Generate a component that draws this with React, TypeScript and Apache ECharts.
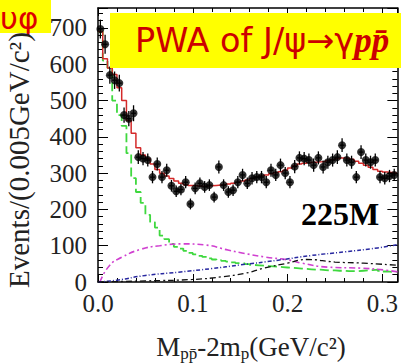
import React, { useEffect, useRef } from "react";
import * as echarts from "echarts";

const BIN_WIDTH = 0.005;
const X_MAX = 0.3158;
const Y_MAX = 755;

const xTickLabels = ["0.0", "0.1", "0.2", "0.3"];
const yTickLabels = ["0", "100", "200", "300", "400", "500", "600", "700"];

// measured events per bin (bin i covers [i*0.005, (i+1)*0.005])
const counts = [
  697, 655, 570, 556, 548, 460, 450, 465, 344, 340,
  336, 289, 325, 289, 308, 265, 250, 255, 275, 215,
  258, 272, 262, 267, 234, 317, 267, 248, 253, 275,
  295, 272, 286, 289, 289, 275, 308, 295, 322, 300,
  275, 318, 342, 340, 336, 322, 342, 317, 330, 336,
  344, 377, 336, 330, 289, 358, 336, 330, 336, 289,
  286, 292, 295,
];
const countErrors = [
  26, 26, 24, 24, 23, 21, 21, 22, 19, 18,
  18, 17, 18, 17, 18, 16, 16, 16, 17, 15,
  16, 16, 16, 16, 15, 18, 16, 16, 16, 17,
  17, 16, 17, 17, 17, 17, 18, 17, 18, 17,
  17, 18, 18, 18, 18, 18, 18, 18, 18, 18,
  19, 19, 18, 18, 17, 19, 18, 18, 18, 17,
  17, 17, 17,
];
// total fit (red histogram)
const fitTotal = [
  690, 615, 590, 572, 535, 500, 445, 410, 370, 350,
  340, 325, 310, 300, 292, 285, 278, 272, 268, 266,
  265, 264, 264, 265, 266, 267, 268, 270, 272, 275,
  278, 281, 285, 289, 292, 295, 298, 301, 304, 308,
  314, 320, 325, 327, 329, 330, 331, 332, 334, 337,
  340, 342, 341, 338, 333, 327, 322, 316, 310, 305,
  303, 302, 301,
];
// near-threshold component (green histogram)
const fitGreen = [
  690, 610, 590, 500, 460, 430, 355, 286, 248, 218,
  185, 165, 150, 128, 118, 105, 97, 92, 86, 80,
  76, 72, 69, 65, 62, 60, 58, 56, 54, 52,
  51, 49, 47, 46, 45, 44, 43, 42, 41, 40,
  39, 38, 37, 36, 35, 34, 34, 33, 32, 32,
  31, 31, 30, 30, 30, 31, 32, 33, 34, 31,
  29, 28, 28,
];
// other components (sparse readings)
const magentaCurve = [
  [0.002, 0], [0.012, 45], [0.025, 68], [0.045, 90], [0.065, 100], [0.088, 105],
  [0.113, 102], [0.137, 88], [0.152, 80], [0.176, 69], [0.2, 61], [0.215, 52],
  [0.242, 41], [0.278, 38], [0.302, 33], [0.316, 28],
];
const blueCurve = [
  [0, 0], [0.02, 5], [0.05, 18], [0.085, 27], [0.12, 37], [0.15, 47], [0.19, 60],
  [0.225, 73], [0.26, 83], [0.295, 94], [0.316, 103],
];
const blackCurve = [
  [0, 0], [0.05, 3], [0.1, 7], [0.13, 14], [0.155, 24], [0.175, 38], [0.2, 52],
  [0.22, 62], [0.25, 55], [0.28, 52], [0.316, 46],
];

const histData = (vals: number[]) =>
  vals.map((v, i) => [i * BIN_WIDTH, v]).concat([[vals.length * BIN_WIDTH, vals[vals.length - 1]]]);

const SERIF = "Liberation Serif";

export default function App() {
  const ref = useRef<HTMLDivElement>(null);
  useEffect(() => {
    document.body.style.margin = "0";
    const chart = echarts.init(ref.current!, null, { renderer: "svg" });
    const pts = counts.map((v, i) => [i * BIN_WIDTH + BIN_WIDTH / 2, v, countErrors[i]]);
    const baseX = {
      type: "value",
      min: 0,
      max: X_MAX,
      splitLine: { show: false },
      axisLine: { show: false, onZero: false },
    };
    const baseY = {
      type: "value",
      min: 0,
      max: Y_MAX,
      splitLine: { show: false },
      axisLine: { show: false, onZero: false },
    };
    const lineStyle = { color: "#000", width: 1.5 };
    const tickStyle = { color: "#000", width: 1 };
    chart.setOption({
      animation: false,
      grid: { left: 98, right: 3, top: 8, bottom: 81 },
      xAxis: [
        {
          ...baseX,
          position: "bottom",
          interval: 0.1,
          axisLine: { show: true, onZero: false, lineStyle },
          axisTick: { inside: true, length: 8, lineStyle: tickStyle },
          axisLabel: {
            margin: 9,
            fontFamily: SERIF,
            fontSize: 25,
            color: "#222",
            formatter: (v: number) => {
              const k = Math.round(v * 10);
              return Math.abs(v * 10 - k) < 1e-6 && k < xTickLabels.length ? xTickLabels[k] : "";
            },
          },
        },
        { ...baseX, position: "bottom", interval: 0.02, axisTick: { inside: true, length: 4, lineStyle: tickStyle }, axisLabel: { show: false } },
        { ...baseX, position: "top", interval: 0.1, axisLine: { show: true, onZero: false, lineStyle }, axisTick: { inside: true, length: 8, lineStyle: tickStyle }, axisLabel: { show: false } },
        { ...baseX, position: "top", interval: 0.02, axisTick: { inside: true, length: 4, lineStyle: tickStyle }, axisLabel: { show: false } },
      ],
      yAxis: [
        {
          ...baseY,
          position: "left",
          interval: 100,
          axisLine: { show: true, onZero: false, lineStyle },
          axisTick: { inside: true, length: 10, lineStyle: tickStyle },
          axisLabel: {
            margin: 11,
            fontFamily: SERIF,
            fontSize: 25,
            color: "#222",
            formatter: (v: number) => {
              const k = Math.round(v / 100);
              return v % 100 === 0 && k < yTickLabels.length ? yTickLabels[k] : "";
            },
          },
        },
        { ...baseY, position: "left", interval: 20, axisTick: { inside: true, length: 5, lineStyle: tickStyle }, axisLabel: { show: false } },
        { ...baseY, position: "right", interval: 100, axisLine: { show: true, onZero: false, lineStyle }, axisTick: { inside: true, length: 10, lineStyle: tickStyle }, axisLabel: { show: false } },
        { ...baseY, position: "right", interval: 20, axisTick: { inside: true, length: 5, lineStyle: tickStyle }, axisLabel: { show: false } },
      ],
      series: [
        {
          type: "line",
          data: histData(fitGreen),
          step: "end",
          showSymbol: false,
          lineStyle: { color: "#3fd83f", width: 1.8, type: [9, 4] },
          z: 2,
        },
        {
          type: "line",
          data: magentaCurve,
          smooth: true,
          showSymbol: false,
          lineStyle: { color: "#d040d0", width: 1.6, type: [6, 3, 2, 3] },
          z: 2,
        },
        {
          type: "line",
          data: blueCurve,
          smooth: true,
          showSymbol: false,
          lineStyle: { color: "#2828a0", width: 1.5, type: [4, 2, 1, 2] },
          z: 2,
        },
        {
          type: "line",
          data: blackCurve,
          smooth: true,
          showSymbol: false,
          lineStyle: { color: "#111", width: 1.3, type: [6, 3, 2, 3] },
          z: 2,
        },
        {
          type: "line",
          data: histData(fitTotal),
          step: "end",
          showSymbol: false,
          lineStyle: { color: "#d42a2a", width: 1.5 },
          z: 3,
        },
        {
          type: "custom",
          data: pts,
          encode: { x: 0, y: 1 },
          z: 4,
          renderItem: (_params: any, api: any) => {
            const x = api.value(0);
            const y = api.value(1);
            const e = api.value(2);
            const top = api.coord([x, y + e]);
            const bot = api.coord([x, y - e]);
            const l = api.coord([x - BIN_WIDTH / 2, y]);
            const r = api.coord([x + BIN_WIDTH / 2, y]);
            return {
              type: "group",
              children: [
                { type: "line", shape: { x1: top[0], y1: top[1], x2: bot[0], y2: bot[1] }, style: { stroke: "#000", lineWidth: 1.3 } },
                { type: "line", shape: { x1: l[0], y1: l[1], x2: r[0], y2: r[1] }, style: { stroke: "#000", lineWidth: 1.3 } },
              ],
            };
          },
        },
        {
          type: "scatter",
          data: pts.map((p) => [p[0], p[1]]),
          symbol: "circle",
          symbolSize: 8,
          itemStyle: { color: "#000" },
          z: 5,
        },
      ],
      graphic: [
        { type: "rect", z: 100, shape: { x: 0, y: 0, width: 51, height: 33 }, style: { fill: "#ffff00" } },
        {
          type: "text",
          z: 101,
          x: 0,
          y: 18,
          style: { text: "υφ", fontFamily: "DejaVu Sans", fontSize: 31, fill: "#dd0000", verticalAlign: "middle" },
        },
        { type: "rect", z: 100, shape: { x: 110, y: 13, width: 300, height: 55 }, style: { fill: "#ffff00" } },
        {
          type: "text",
          z: 101,
          x: 135,
          y: 40,
          style: {
            text: "{a|PWA of J/ψ→γ}{b|pp̄}",
            verticalAlign: "middle",
            rich: {
              a: { fontFamily: "DejaVu Sans", fontSize: 33.5, fill: "#cc0000" },
              b: { fontFamily: SERIF, fontSize: 35, fontStyle: "italic", fontWeight: "bold", fill: "#cc0000" },
            },
          },
        },
        {
          type: "text",
          z: 101,
          x: 340,
          y: 214,
          style: { text: "225M", fontFamily: SERIF, fontWeight: "bold", fontSize: 32, fill: "#000", align: "center", verticalAlign: "middle" },
        },
        {
          type: "text",
          z: 101,
          x: 19,
          y: 160,
          rotation: Math.PI / 2,
          style: { text: "Events/(0.005GeV/c²)", fontFamily: SERIF, fontSize: 29, fill: "#222", align: "center", verticalAlign: "middle" },
        },
        {
          type: "text",
          z: 101,
          x: 251,
          y: 347,
          style: {
            text: "{m|M}{s|pp̄}{m|-2m}{s|p}{m|(GeV/c²)}",
            align: "center",
            verticalAlign: "middle",
            rich: {
              m: { fontFamily: SERIF, fontSize: 27, fill: "#222", lineHeight: 30 },
              s: { fontFamily: SERIF, fontSize: 17, fill: "#222", lineHeight: 14, verticalAlign: "bottom" },
            },
          },
        },
      ],
    });
    return () => chart.dispose();
  }, []);
  return <div ref={ref} style={{ position: "absolute", left: 0, top: 0, width: 401, height: 363 }} />;
}
